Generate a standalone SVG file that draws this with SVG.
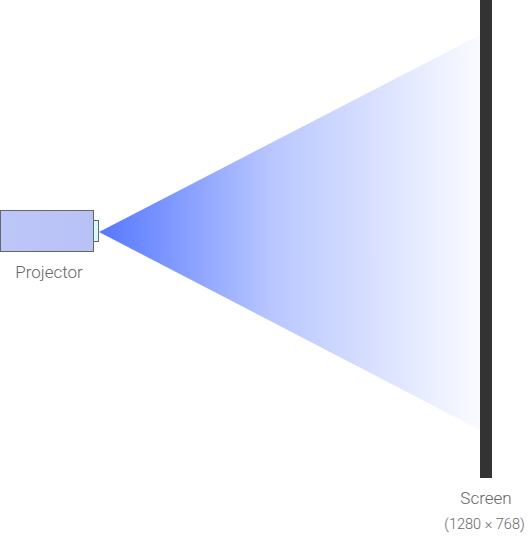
<svg xmlns="http://www.w3.org/2000/svg" width="528" height="536" viewBox="0 0 528 536">
<defs>
<linearGradient id="beam" x1="99" y1="0" x2="480" y2="0" gradientUnits="userSpaceOnUse">
<stop offset="0" stop-color="#5577ff"/>
<stop offset="0.45" stop-color="#5577ff" stop-opacity="0.42"/>
<stop offset="1" stop-color="#5577ff" stop-opacity="0.03"/>
</linearGradient>
<linearGradient id="body" x1="0" y1="0" x2="1" y2="0">
<stop offset="0" stop-color="#bcc6f8"/>
<stop offset="1" stop-color="#b8c2f6"/>
</linearGradient>
<style>
.lbl{font-family:Roboto,Inter,"Liberation Sans",sans-serif;font-weight:300;font-size:17px;fill:#666;text-anchor:middle}
.sub{font-size:14.5px}
</style>
</defs>
<rect width="528" height="536" fill="#fff"/>
<g id="connectors">
<polygon id="beam-shape" points="99,232 480,35 480,430" fill="url(#beam)"/>
</g>
<g id="projector">
<rect x="0.5" y="210.5" width="93" height="41" fill="url(#body)" stroke="#666" stroke-width="1"/>
<rect x="93.5" y="220.5" width="5" height="21" fill="#d4fbf8" stroke="#666" stroke-width="1"/>
<text class="lbl" x="49" y="278">Projector</text>
</g>
<g id="screen">
<rect x="480" y="0" width="12" height="478" fill="#333"/>
<text class="lbl" x="486" y="504">Screen</text>
<text class="lbl sub" x="484.5" y="529">(1280 × 768)</text>
</g>
</svg>
